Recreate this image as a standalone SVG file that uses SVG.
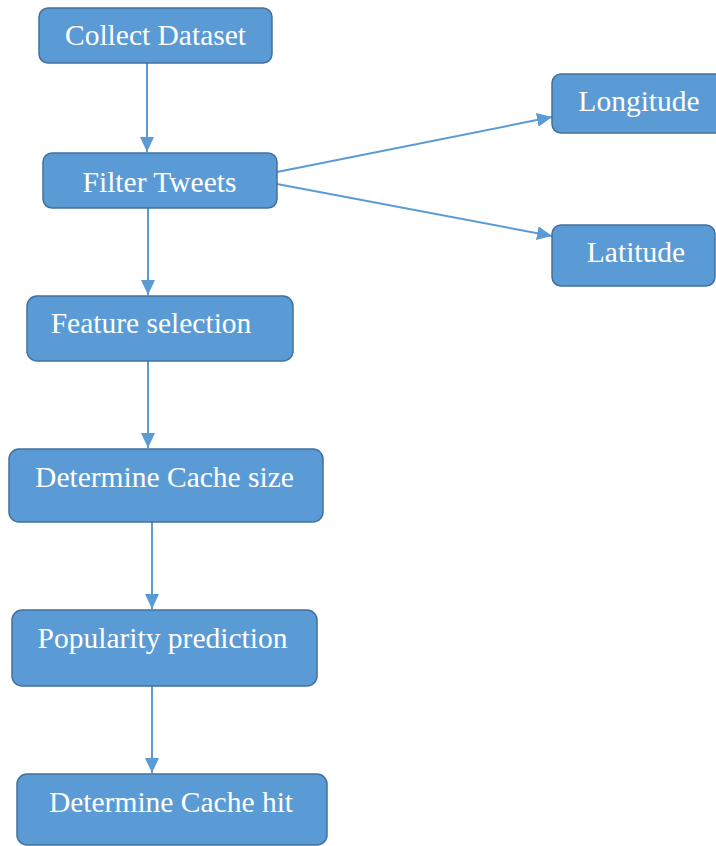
<svg xmlns="http://www.w3.org/2000/svg" width="716" height="846" viewBox="0 0 716 846">
<style>
.box{fill:#5B9BD5;stroke:#41719C;stroke-width:1.5}
.lbl{font-size:29.5px;fill:#fff;text-anchor:middle}
.edge{stroke:#5B9BD5;stroke-width:2;fill:none}
</style>
<defs>
<marker id="ah" markerUnits="userSpaceOnUse" markerWidth="16" markerHeight="16" viewBox="0 0 16 16" refX="15" refY="8" orient="auto">
<path d="M0,1 L15,8 L0,15 Z" fill="#5B9BD5"/>
</marker>
</defs>
<rect width="716" height="846" fill="#fff"/>
<g id="connectors">
<line class="edge" x1="147" y1="63" x2="147" y2="152" marker-end="url(#ah)"/>
<line class="edge" x1="277" y1="172" x2="552" y2="117" marker-end="url(#ah)"/>
<line class="edge" x1="277" y1="184" x2="552" y2="236" marker-end="url(#ah)"/>
<line class="edge" x1="148" y1="208" x2="148" y2="295" marker-end="url(#ah)"/>
<line class="edge" x1="148" y1="361" x2="148" y2="448" marker-end="url(#ah)"/>
<line class="edge" x1="152" y1="522" x2="152" y2="609" marker-end="url(#ah)"/>
<line class="edge" x1="152" y1="686" x2="152" y2="773" marker-end="url(#ah)"/>
</g>
<g font-family="Liberation Serif, Times New Roman, serif">
<g id="collect">
<rect class="box" x="39" y="8" width="233" height="55" rx="9"/>
<text class="lbl" x="155.5" y="45">Collect Dataset</text>
</g>
<g id="filter">
<rect class="box" x="43" y="153" width="234" height="55" rx="9"/>
<text class="lbl" x="159.5" y="192">Filter Tweets</text>
</g>
<g id="longitude">
<rect class="box" x="552" y="74" width="180" height="59" rx="9"/>
<text class="lbl" x="639" y="111">Longitude</text>
</g>
<g id="latitude">
<rect class="box" x="552" y="225" width="163" height="61" rx="9"/>
<text class="lbl" x="636" y="262">Latitude</text>
</g>
<g id="feature">
<rect class="box" x="27" y="296" width="266" height="65" rx="10"/>
<text class="lbl" x="151" y="333">Feature selection</text>
</g>
<g id="cachesize">
<rect class="box" x="9" y="449" width="314" height="73" rx="10"/>
<text class="lbl" x="164.5" y="487">Determine Cache size</text>
</g>
<g id="popularity">
<rect class="box" x="12" y="610" width="305" height="76" rx="10"/>
<text class="lbl" x="162.5" y="648">Popularity prediction</text>
</g>
<g id="cachehit">
<rect class="box" x="17" y="774" width="310" height="71" rx="10"/>
<text class="lbl" x="171" y="812">Determine Cache hit</text>
</g>
</g>
</svg>
